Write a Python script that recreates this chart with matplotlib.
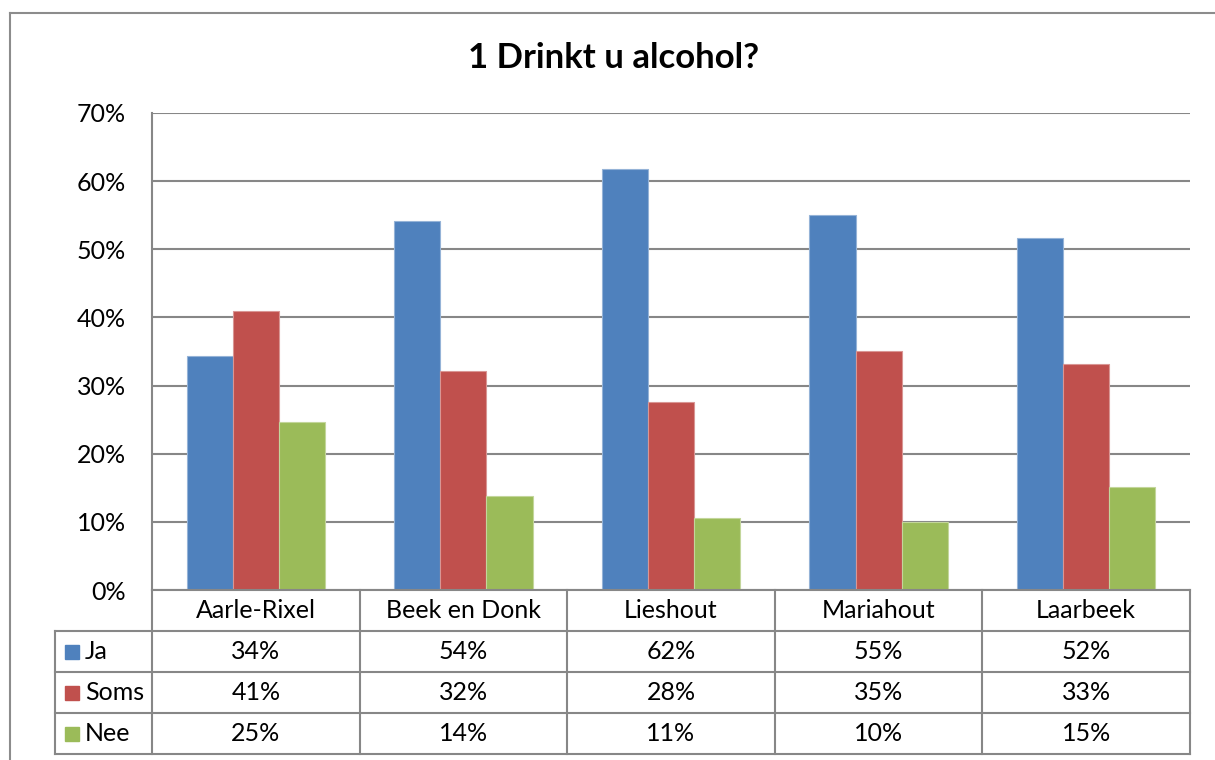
import matplotlib
matplotlib.use('Agg')
import matplotlib.pyplot as plt
from matplotlib.lines import Line2D
from matplotlib.patches import Rectangle
import numpy as np

plt.rcParams['font.family'] = ['Lato', 'DejaVu Sans']

categories = ['Aarle-Rixel', 'Beek en Donk', 'Lieshout', 'Mariahout', 'Laarbeek']
series = ['Ja', 'Soms', 'Nee']
ja = [34.4, 54.2, 61.8, 55.0, 51.7]
soms = [40.9, 32.1, 27.6, 35.1, 33.2]
nee = [24.7, 13.8, 10.6, 10.0, 15.1]
colors = {'Ja': '#4F81BD', 'Soms': '#C0504D', 'Nee': '#9BBB59'}
edges = {'Ja': '#95B3D7', 'Soms': '#D99694', 'Nee': '#C3D69B'}
values = {'Ja': ja, 'Soms': soms, 'Nee': nee}

W, H = 1215, 760
fig = plt.figure(figsize=(W / 100, H / 100), dpi=100)
grid_col = '#878787'

# plot area in pixels
x0, x1, ytop, ybot = 152, 1190, 113, 590
ax = fig.add_axes([x0 / W, 1 - ybot / H, (x1 - x0) / W, (ybot - ytop) / H])

n = len(categories)
bw = 1 / 4.5
x = np.arange(n) + 0.5
for i, s in enumerate(series):
    ax.bar(x + (i - 1) * bw, np.array(values[s]) / 100, width=bw,
           color=colors[s], edgecolor=edges[s], linewidth=0.8, zorder=3)

ax.set_xlim(0, n)
ax.set_ylim(0, 0.7)
ax.set_yticks(np.arange(0, 0.71, 0.1))
ax.set_yticklabels([f'{int(round(t * 100))}%' for t in np.arange(0, 0.71, 0.1)], fontsize=18)
ax.tick_params(axis='y', length=0, pad=19)
ax.set_xticks([])
ax.grid(axis='y', color=grid_col, linewidth=1.5, zorder=0)
for sp in ['top', 'right', 'bottom']:
    ax.spines[sp].set_visible(False)
ax.spines['left'].set_color(grid_col)
ax.spines['left'].set_linewidth(1.5)

fig.text(614 / W, 1 - 58 / H, '1 Drinkt u alcohol?', ha='center', va='center',
         fontsize=25, fontweight='bold')

# data table below the plot
def px(xp, yp):
    return xp / W, 1 - yp / H

def hline(xa, xb, yp):
    fig.add_artist(Line2D([xa / W, xb / W], [1 - yp / H, 1 - yp / H],
                          color=grid_col, linewidth=1.5))

def vline(xp, ya, yb):
    fig.add_artist(Line2D([xp / W, xp / W], [1 - ya / H, 1 - yb / H],
                          color=grid_col, linewidth=1.5))

row_h = 41
tab_left = 55
rows_y = [ybot + row_h * k for k in range(5)]
hline(x0, x1, rows_y[0])
for k in range(1, 5):
    hline(tab_left, x1, rows_y[k])
cw = (x1 - x0) / n
for j in range(n + 1):
    vline(x0 + j * cw, rows_y[0], rows_y[4])
vline(tab_left, rows_y[1], rows_y[4])

for j, c in enumerate(categories):
    fig.text((x0 + (j + 0.5) * cw) / W, 1 - (rows_y[0] + row_h / 2) / H, c,
             ha='center', va='center', fontsize=18)

for i, s in enumerate(series):
    yc = rows_y[i + 1] + row_h / 2
    fig.add_artist(Rectangle(px(65, yc + 7), 14 / W, 14 / H, color=colors[s]))
    fig.text(85 / W, 1 - yc / H, s, ha='left', va='center', fontsize=18)
    for j in range(n):
        fig.text((x0 + (j + 0.5) * cw) / W, 1 - yc / H, f'{round(values[s][j]):.0f}%',
                 ha='center', va='center', fontsize=18)

# chart border
fig.add_artist(Line2D([10 / W, 10 / W], [1 - 13 / H, 0], color='#8C8C8C', linewidth=1.5))
fig.add_artist(Line2D([10 / W, 1], [1 - 13 / H, 1 - 13 / H], color='#8C8C8C', linewidth=1.5))

fig.savefig('out.png', dpi=100)
